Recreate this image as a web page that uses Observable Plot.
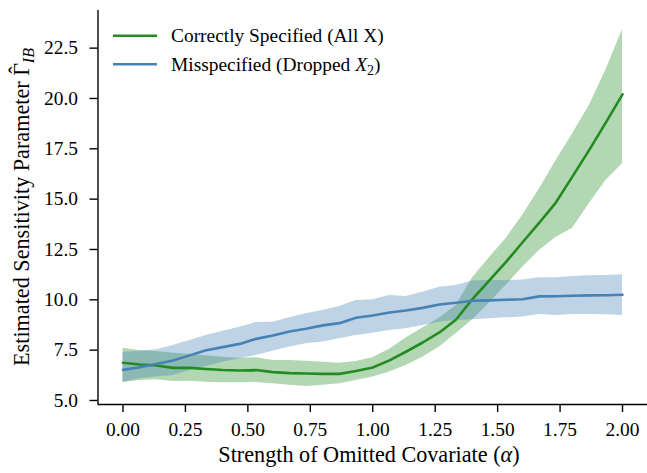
<!DOCTYPE html>
<html>
<head>
<meta charset="utf-8">
<script src="https://cdn.jsdelivr.net/npm/d3@7"></script>
<script src="https://cdn.jsdelivr.net/npm/@observablehq/plot@0.6"></script>
<style>
  html, body { margin: 0; padding: 0; background: white; }
</style>
</head>
<body>
<div id="chart"></div>
<script>
const alpha = [0.000, 0.067, 0.133, 0.200, 0.267, 0.333, 0.400, 0.467, 0.533, 0.600,
               0.667, 0.733, 0.800, 0.867, 0.933, 1.000, 1.067, 1.133, 1.200, 1.267,
               1.333, 1.400, 1.467, 1.533, 1.600, 1.667, 1.733, 1.800, 1.867, 1.933, 2.000];

const correctMean = [6.87, 6.79, 6.74, 6.62, 6.62, 6.56, 6.51, 6.49, 6.51, 6.41,
                     6.36, 6.34, 6.32, 6.32, 6.46, 6.64, 6.99, 7.42, 7.88, 8.38,
                     9.01, 10.05, 10.96, 11.87, 12.86, 13.83, 14.83, 16.13, 17.45, 18.80, 20.20];
const correctHi = [7.60, 7.48, 7.43, 7.35, 7.29, 7.22, 7.15, 7.10, 7.12, 6.99,
                   6.99, 6.95, 6.90, 6.85, 6.93, 7.12, 7.55, 8.10, 8.60, 9.10,
                   9.70, 11.10, 12.09, 13.03, 14.20, 15.50, 16.90, 18.25, 19.65, 21.40, 23.42];
const correctLo = [5.91, 5.99, 6.03, 5.94, 5.96, 5.91, 5.88, 5.88, 5.89, 5.83,
                   5.76, 5.70, 5.75, 5.83, 5.99, 6.16, 6.41, 6.74, 7.15, 7.65,
                   8.31, 9.01, 9.84, 10.71, 11.62, 12.45, 13.10, 13.55, 14.77, 15.93, 16.76];

const misMean = [6.52, 6.65, 6.81, 6.99, 7.24, 7.49, 7.65, 7.81, 8.06, 8.23,
                 8.43, 8.56, 8.73, 8.84, 9.11, 9.22, 9.37, 9.47, 9.60, 9.77,
                 9.85, 9.95, 9.97, 10.00, 10.03, 10.17, 10.18, 10.20, 10.22, 10.23, 10.25];
const misHi = [7.40, 7.45, 7.52, 7.73, 7.98, 8.23, 8.44, 8.64, 8.87, 8.89,
               9.11, 9.31, 9.47, 9.67, 9.97, 10.00, 10.22, 10.17, 10.38, 10.63,
               10.71, 10.93, 10.96, 10.96, 10.99, 11.09, 11.09, 11.16, 11.19, 11.21, 11.24];
const misLo = [5.88, 6.08, 6.16, 6.24, 6.49, 6.69, 6.90, 7.07, 7.24, 7.45,
               7.65, 7.82, 7.90, 8.06, 8.23, 8.34, 8.48, 8.56, 8.73, 8.89,
               8.97, 9.01, 9.06, 9.11, 9.14, 9.27, 9.22, 9.27, 9.27, 9.26, 9.22];

const xTicks = [0, 0.25, 0.5, 0.75, 1.0, 1.25, 1.5, 1.75, 2.0];
const yTicks = [5.0, 7.5, 10.0, 12.5, 15.0, 17.5, 20.0, 22.5];

const seriesNames = ["Correctly Specified (All X)", "Misspecified (Dropped X2)"];
const colors = ["#228B22", "#4682B4"];

const correct = alpha.map((a, i) => ({a, m: correctMean[i], lo: correctLo[i], hi: correctHi[i]}));
const mis = alpha.map((a, i) => ({a, m: misMean[i], lo: misLo[i], hi: misHi[i]}));

const FONT = "'Liberation Serif', 'Times New Roman', 'DejaVu Serif', serif";

const chart = Plot.plot({
  width: 647,
  height: 473,
  marginLeft: 97.5,
  marginRight: 0,
  marginTop: 10,
  marginBottom: 69,
  style: {fontFamily: FONT, fontSize: "19.4px", background: "white", color: "black"},
  x: {domain: [-0.1, 2.1], label: null},
  y: {domain: [4.8, 24.37], label: null},
  marks: [
    Plot.areaY(correct, {x: "a", y1: "lo", y2: "hi", fill: colors[0], fillOpacity: 0.35}),
    Plot.areaY(mis, {x: "a", y1: "lo", y2: "hi", fill: colors[1], fillOpacity: 0.35}),
    Plot.lineY(correct, {x: "a", y: "m", stroke: colors[0], strokeWidth: 2.6}),
    Plot.lineY(mis, {x: "a", y: "m", stroke: colors[1], strokeWidth: 2.6}),
    Plot.ruleX([-0.1], {stroke: "black", strokeWidth: 1.4}),
    Plot.ruleY([4.8], {stroke: "black", strokeWidth: 1.4}),
    Plot.axisX({ticks: xTicks, tickFormat: d3.format(".2f"), tickSize: 8, tickPadding: 10,
                strokeWidth: 1.4, fontSize: 19.4, label: null}),
    Plot.axisY({ticks: yTicks, tickFormat: d3.format(".1f"), tickSize: 8, tickPadding: 12,
                strokeWidth: 1.4, fontSize: 19.4, label: null})
  ]
});

document.getElementById("chart").appendChild(chart);

const svg = d3.select(chart);

// x-axis title
const xt = svg.append("text")
  .attr("x", 369).attr("y", 462)
  .attr("text-anchor", "middle")
  .style("font-family", FONT).style("font-size", "22.2px").attr("fill", "black");
xt.append("tspan").text("Strength of Omitted Covariate (");
xt.append("tspan").style("font-style", "italic").text("α");
xt.append("tspan").text(")");

// y-axis title
const yt = svg.append("text")
  .attr("transform", "translate(29,207) rotate(-90)")
  .attr("text-anchor", "middle")
  .style("font-family", FONT).style("font-size", "22.2px").attr("fill", "black");
yt.append("tspan").text("Estimated Sensitivity Parameter Γ");
yt.append("tspan").attr("dx", -10.8).attr("dy", -4).text("\u02C6");
yt.append("tspan").attr("dx", 3.2).attr("dy", 9).style("font-style", "italic").style("font-size", "16px").text("IB");

// legend
const leg = svg.append("g").style("font-family", FONT).style("font-size", "19.4px")
  .attr("text-anchor", "start");
const legY = [35.7, 64.3];
legY.forEach((y, i) => {
  leg.append("line").attr("x1", 113).attr("x2", 157).attr("y1", y).attr("y2", y)
    .attr("stroke", colors[i]).attr("stroke-width", 2.6);
});
leg.append("text").attr("x", 171).attr("y", legY[0] + 6.6).attr("text-anchor", "start")
  .attr("fill", "black").text(seriesNames[0]);
const t2 = leg.append("text").attr("x", 171).attr("y", legY[1] + 6.6).attr("text-anchor", "start")
  .attr("fill", "black");
t2.append("tspan").text("Misspecified (Dropped ");
t2.append("tspan").style("font-style", "italic").text("X");
t2.append("tspan").attr("dy", 4).style("font-size", "14px").text("2");
t2.append("tspan").attr("dy", -4).text(")");
</script>
</body>
</html>
